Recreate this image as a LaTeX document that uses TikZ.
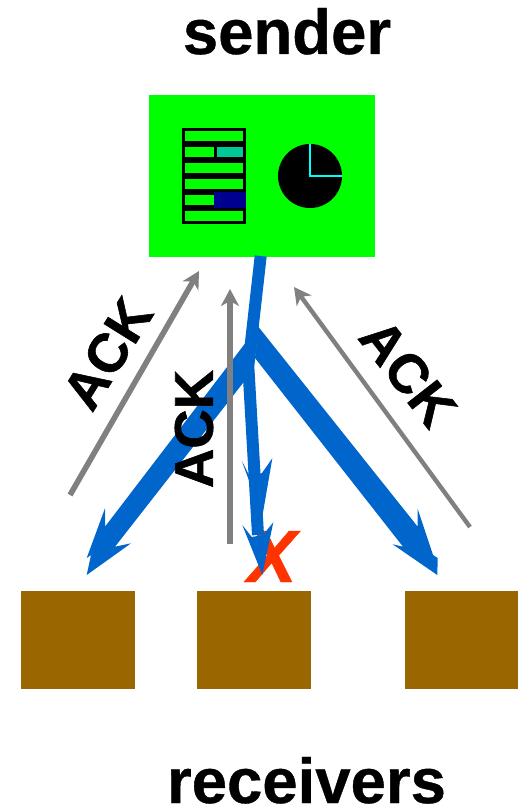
\documentclass[tikz,border=0pt]{standalone}
\usepackage{fontspec}
\setmainfont{Liberation Sans}
\usetikzlibrary{arrows.meta}
\definecolor{sendgreen}{HTML}{00FF00}
\definecolor{flowblue}{HTML}{0066CC}
\definecolor{recvbrown}{HTML}{996600}
\definecolor{ackgray}{HTML}{808080}
\definecolor{lossred}{HTML}{FF3300}
\definecolor{cellteal}{HTML}{00C896}
\definecolor{cellnavy}{HTML}{000090}
\definecolor{clockcyan}{HTML}{00FFFF}
\tikzset{
  x=1pt,y=-1pt,
  sendbox/.style={fill=sendgreen,draw=none},
  recvbox/.style={fill=recvbrown,draw=none},
  bigtext/.style={font=\fontsize{63.5}{63.5}\selectfont\bfseries\addfontfeature{FakeBold=0.6},anchor=base,inner sep=0pt},
  acktext/.style={font=\fontsize{54.5}{54.5}\selectfont\bfseries\addfontfeature{FakeBold=1},inner sep=0pt},
  losstext/.style={font=\fontsize{74}{74}\selectfont\bfseries\itshape\addfontfeature{FakeBold=0.6},text=lossred,inner sep=0pt,anchor=base},
  flowthin/.style={draw=flowblue,line width=12pt,line join=round},
  flowhead/.style={fill=flowblue,draw=none},
  ackthick/.style={draw=ackgray,line width=5.6pt,-{Stealth[length=17pt,width=18pt,inset=5pt]}},
  ackthin/.style={draw=ackgray,line width=4.4pt,-{Stealth[length=17pt,width=18pt,inset=5pt]}},
  cellgreen/.style={fill=sendgreen,draw=none},
}
\begin{document}
\begin{tikzpicture}
\useasboundingbox (0,0) rectangle (518,808);
% boxes
\node[sendbox,minimum width=226pt,minimum height=162pt,inner sep=0pt] (sender) at (262,176) {};
\node[recvbox,minimum width=114pt,minimum height=98pt,inner sep=0pt] (r1) at (78,640) {};
\node[recvbox,minimum width=114pt,minimum height=98pt,inner sep=0pt] (r2) at (254,640) {};
\node[recvbox,minimum width=113pt,minimum height=98pt,inner sep=0pt] (r3) at (461.5,640) {};
% table icon
\fill[black] (182,128) rectangle (246,224);
\fill[cellgreen] (185,130.7) rectangle (243.3,141);
\fill[cellgreen] (185,146.7) rectangle (214,157);
\fill[cellteal] (216.7,146.7) rectangle (243.3,157);
\fill[cellgreen] (185,162.7) rectangle (243.3,173);
\fill[cellgreen] (185,178.7) rectangle (243.3,189);
\fill[cellgreen] (185,194.7) rectangle (214,205);
\fill[cellnavy] (214,192) rectangle (246,208);
\fill[cellgreen] (185,210.7) rectangle (243.3,221);
% clock
\fill[black] (310,176) circle[radius=32];
\draw[clockcyan,line width=2.4pt] (310,144) -- (310,176) -- (342,176);
% data flow
\coordinate (trunktop) at (260.7,256);
\coordinate (trunkbot) at (248.3,366);
\coordinate (midend) at (258,535);
\node[losstext] (loss) at (272,582) {X};
\fill[flowhead] (250,337) -- (105,526.7) -- (105,508.3) -- (86.7,558) -- (91,555) -- (86.7,575) -- (131,543.3) -- (115,546.7) -- (250,374) -- cycle;
\fill[flowhead] (258.3,326.7) -- (417.7,526.7) -- (417.7,509) -- (433,555) -- (437.7,558) -- (437.3,575) -- (392.7,544.3) -- (403,546.7) -- (255,358) -- cycle;
\draw[flowthin] (trunktop) -- (trunkbot) -- (midend);
\fill[flowhead] (262.3,516.7) -- (241.7,460.7) -- (250,477) -- (262,473) -- (272.3,458.3) -- cycle;
\fill[flowhead] (262.3,575) -- (242.3,525) -- (251.7,537) -- (263,535) -- (273.3,522.3) -- cycle;
% acks
\coordinate (l0) at (70,495); \coordinate (l1) at (199,271);
\coordinate (m0) at (230,544); \coordinate (m1) at (230,289);
\coordinate (n0) at (470,527); \coordinate (n1) at (294,287);
\draw[ackthick] (l0) -- (l1);
\draw[ackthick] (m0) -- (m1);
\draw[ackthin] (n0) -- (n1);
% text
\node[bigtext] (sendlabel) at (287,54) {sender};
\node[bigtext] (recvlabel) at (306.5,803) {receivers};
\node[acktext,rotate=58] (ack1) at (107.5,353.5) {ACK};
\node[acktext,rotate=90] (ack2) at (194,429) {ACK};
\node[acktext,rotate=-52] (ack3) at (408,373) {ACK};
\end{tikzpicture}
\end{document}
